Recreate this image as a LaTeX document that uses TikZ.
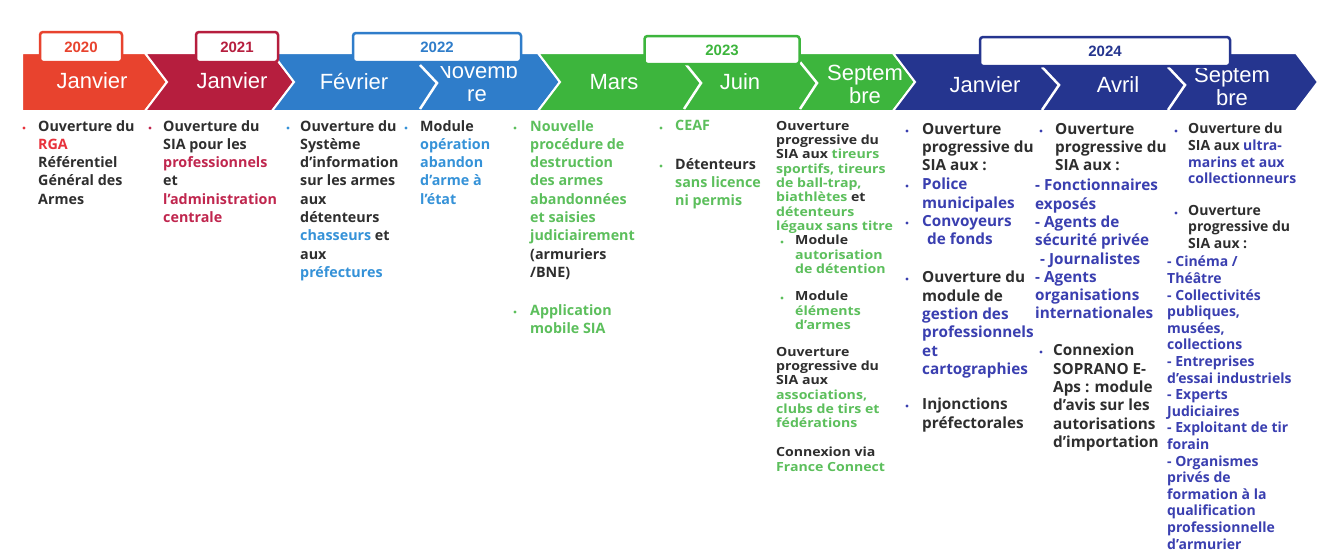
\documentclass[tikz,border=0pt]{standalone}
\usepackage{fontspec}
\setmainfont{Open Sans}
\newfontfamily\arialf{Liberation Sans}
\newfontfamily\osc[FakeStretch=1.12]{Open Sans}
\definecolor{cRed}{HTML}{E8432E}
\definecolor{cCrim}{HTML}{B61E3E}
\definecolor{cBlue}{HTML}{2F7DCA}
\definecolor{cGreen}{HTML}{3DB53D}
\definecolor{cNavy}{HTML}{25358F}
\definecolor{tRed}{HTML}{E8323C}
\definecolor{tCrim}{HTML}{C0264E}
\definecolor{tBlue}{HTML}{3592D8}
\definecolor{tGreen}{HTML}{5CBF5C}
\definecolor{tNavy}{HTML}{3A3FB0}
\definecolor{dk}{HTML}{2E2E2E}
\newcommand{\tR}[1]{\textcolor{tRed}{#1}}
\newcommand{\tC}[1]{\textcolor{tCrim}{#1}}
\newcommand{\tB}[1]{\textcolor{tBlue}{#1}}
\newcommand{\tG}[1]{\textcolor{tGreen}{#1}}
\newcommand{\tN}[1]{\textcolor{tNavy}{#1}}
\tikzset{
  chev/.style={draw=white, line width=2pt, fill=#1},
  divline/.style={draw=white, line width=2.5pt},
  mtext/.style={text=white, font=\arialf\fontsize{22}{23}\selectfont, align=center, inner sep=0pt},
  ybox/.style={draw=#1, fill=white, line width=2.5pt, rounded corners=3pt, text=#1,
    font=\arialf\bfseries\fontsize{15}{16}\selectfont, inner sep=0pt},
  col/.style={anchor=north west, inner sep=0pt, align=left, text=dk,
    font=\bfseries\fontsize{14.3}{18.3}\selectfont},
  colb/.style={col, font=\bfseries\fontsize{15.3}{18.3}\selectfont},
  colc/.style={col, font=\osc\bfseries\fontsize{12.6}{14.3}\selectfont},
  cold/.style={col, font=\bfseries\fontsize{14}{16.6}\selectfont},
  bdot/.style={circle, fill=#1, inner sep=0pt, minimum size=3.2pt},
}
\begin{document}
\begin{tikzpicture}[x=1pt,y=-1pt]
\useasboundingbox[fill=white] (0,0) rectangle (1325,550);
% chevrons
\path[chev=cRed] (22,53) -- (145,53) -- (167,82) -- (145,111) -- (22,111) -- cycle;
\path[chev=cCrim] (145,53) -- (272,53) -- (294,82) -- (272,111) -- (145,111) -- (167,82) -- cycle;
\path[chev=cBlue] (272,53) -- (538,53) -- (560,82) -- (538,111) -- (272,111) -- (294,82) -- cycle;
\path[chev=cGreen] (538,53) -- (893,53) -- (915,82) -- (893,111) -- (538,111) -- (560,82) -- cycle;
\path[chev=cNavy] (893,53) -- (1296,53) -- (1318,82) -- (1296,111) -- (893,111) -- (915,82) -- cycle;
% inner dividers
\path[divline] (420,65) -- (437,83) -- (420,109);
\path[divline] (684,62) -- (701,83) -- (684,109);
\path[divline] (800,62) -- (817,83) -- (800,109);
\path[divline] (1042,67) -- (1059,85) -- (1042,110);
\path[divline] (1168,67) -- (1185,85) -- (1168,110);
% month labels
\node[mtext] (m1) at (92,81) {Janvier};
\node[mtext] (m2) at (232,81) {Janvier};
\node[mtext] (m3) at (354,82) {Février};
\begin{scope}
  \clip (440,66.5) rectangle (540,112);
  \node[mtext] (m4) at (477,82) {Novemb\\re};
\end{scope}
\node[mtext] (m5) at (614,82) {Mars};
\node[mtext] (m6) at (740,82) {Juin};
\node[mtext] (m7) at (865,84) {Septem\\bre};
\node[mtext] (m8) at (985,85) {Janvier};
\node[mtext] (m9) at (1118,85) {Avril};
\begin{scope}
  \clip (1190,68) rectangle (1290,112);
  \node[mtext] (m10) at (1232,86) {Septem\\bre};
\end{scope}
% year boxes
\node[ybox=cRed, minimum width=82pt, minimum height=30pt] (y2020) at (81,47) {2020};
\node[ybox=cCrim, minimum width=82pt, minimum height=30pt] (y2021) at (237,47) {2021};
\node[ybox=cBlue, minimum width=168pt, minimum height=29pt] (y2022) at (437,47.5) {2022};
\node[ybox=cGreen, minimum width=155pt, minimum height=28pt] (y2023) at (722,50) {2023};
\node[ybox=cNavy, minimum width=250pt, minimum height=29pt] (y2024) at (1105,51.5) {2024};
% column 1
\node[bdot=tRed] (b1) at (24,128) {};
\node[col] (c1) at (38,120) {Ouverture du\\\tR{RGA}\\Référentiel\\Général des\\Armes};
% column 2
\node[bdot=tCrim] (b2) at (150,128) {};
\node[col] (c2) at (163,120) {Ouverture du\\SIA pour les\\\tC{professionnels}\\et\\\tC{l’administration}\\\tC{centrale}};
% column 3
\node[bdot=tBlue] (b3) at (288,128) {};
\node[col] (c3) at (300,120) {Ouverture du\\Système\\d’information\\sur les armes\\aux\\détenteurs\\\tB{chasseurs} et\\aux\\\tB{préfectures}};
% column 4
\node[bdot=tBlue] (b4) at (406,128) {};
\node[col] (c4) at (420,120) {Module\\\tB{opération}\\\tB{abandon}\\\tB{d’arme à}\\\tB{l’état}};
% column 5
\node[bdot=tGreen] (b5a) at (515,128) {};
\node[col] (c5a) at (530,120) {\tG{Nouvelle}\\\tG{procédure de}\\\tG{destruction}\\\tG{des armes}\\\tG{abandonnées}\\\tG{et saisies}\\\tG{judiciairement}\\(armuriers\\/BNE)};
\node[bdot=tGreen] (b5b) at (515,312) {};
\node[col] (c5b) at (530,304) {\tG{Application}\\\tG{mobile SIA}};
% column 6
\node[bdot=tGreen] (b6a) at (661,128) {};
\node[col] (c6a) at (675,120) {\tG{CEAF}};
\node[bdot=tGreen] (b6b) at (661,166) {};
\node[col] (c6b) at (675,158) {Détenteurs\\\tG{sans licence}\\\tG{ni permis}};
% column 7
\node[colc] (c7a) at (776,121) {Ouverture\\progressive du\\SIA aux \tG{tireurs}\\\tG{sportifs, tireurs}\\\tG{de ball-trap,}\\\tG{biathlètes} et\\\tG{détenteurs}\\\tG{légaux sans titre}};
\node[bdot=tGreen] (b7b) at (782,242) {};
\node[colc] (c7b) at (795,235) {Module\\\tG{autorisation}\\\tG{de détention}};
\node[bdot=tGreen] (b7c) at (782,298) {};
\node[colc] (c7c) at (795,291) {Module\\\tG{éléments}\\\tG{d’armes}};
\node[colc] (c7d) at (776,347) {Ouverture\\progressive du\\SIA aux\\\tG{associations,}\\\tG{clubs de tirs et}\\\tG{fédérations}};
\node[colc] (c7e) at (776,447) {Connexion via\\\tG{France Connect}};
% column 8
\node[bdot=tNavy] (b8a) at (907,131) {};
\node[colb] (c8a) at (922,123) {Ouverture\\progressive du\\SIA aux :};
\node[bdot=tNavy] (b8b) at (907,186) {};
\node[colb] (c8b) at (922,178) {\tN{Police}\\\tN{municipales}};
\node[bdot=tNavy] (b8c) at (907,223) {};
\node[colb] (c8c) at (922,215) {\tN{Convoyeurs}\\\hspace*{5pt}\tN{de fonds}};
\node[bdot=tNavy] (b8d) at (907,279) {};
\node[colb] (c8d) at (922,271) {Ouverture du\\module de\\\tN{gestion des}\\\tN{professionnels}\\\tN{et}\\\tN{cartographies}};
\node[bdot=tNavy] (b8e) at (907,406) {};
\node[colb] (c8e) at (922,398) {Injonctions\\préfectorales};
% column 9
\node[bdot=tNavy] (b9a) at (1041,131) {};
\node[colb] (c9a) at (1055,123) {Ouverture\\progressive du\\SIA aux :};
\node[colb] (c9b) at (1035,179) {\tN{- Fonctionnaires}\\\tN{exposés}\\\tN{- Agents de}\\\tN{sécurité privée}\\\hspace*{5pt}\tN{- Journalistes}\\\tN{- Agents}\\\tN{organisations}\\\tN{internationales}};
\node[bdot=tNavy] (b9c) at (1041,352) {};
\node[colb] (c9c) at (1053,344) {Connexion\\SOPRANO E-\\Aps : module\\d’avis sur les\\autorisations\\d’importation};
% column 10
\node[bdot=tNavy] (b10a) at (1176,131) {};
\node[cold] (c10a) at (1188,123) {Ouverture du\\SIA aux \tN{ultra-}\\\tN{marins et aux}\\\tN{collectionneurs}};
\node[bdot=tNavy] (b10b) at (1176,213) {};
\node[cold] (c10b) at (1188,205) {Ouverture\\progressive du\\SIA aux :};
\node[cold] (c10c) at (1167,256) {\tN{- Cinéma /}\\\tN{Théâtre}\\\tN{- Collectivités}\\\tN{publiques,}\\\tN{musées,}\\\tN{collections}\\\tN{- Entreprises}\\\tN{d’essai industriels}\\\tN{- Experts}\\\tN{Judiciaires}\\\tN{- Exploitant de tir}\\\tN{forain}\\\tN{- Organismes}\\\tN{privés de}\\\tN{formation à la}\\\tN{qualification}\\\tN{professionnelle}\\\tN{d’armurier}};
\end{tikzpicture}
\end{document}
